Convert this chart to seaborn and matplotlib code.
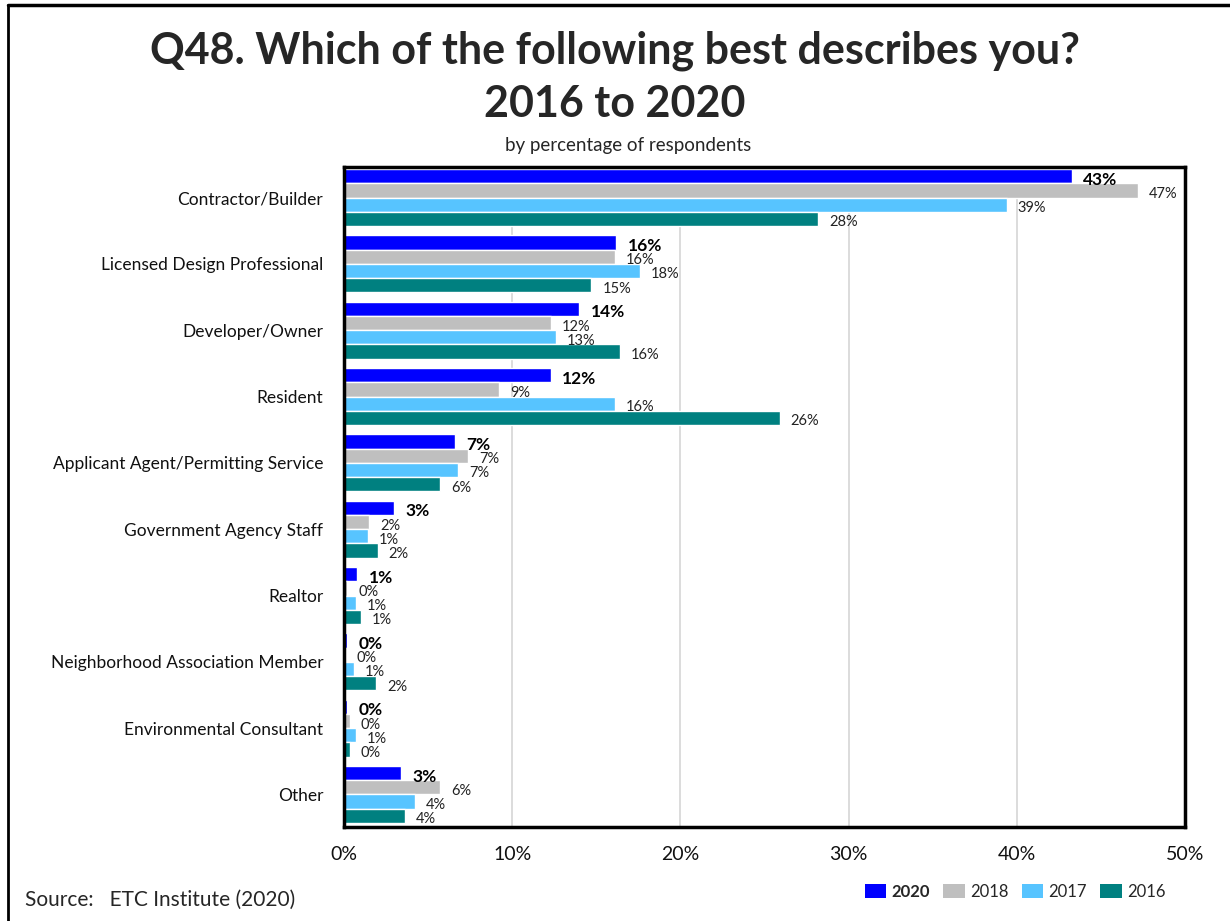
import numpy as np
import pandas as pd
import seaborn as sns
import matplotlib.pyplot as plt
from matplotlib.patches import Patch
from matplotlib.lines import Line2D
from matplotlib.ticker import FuncFormatter

# Survey responses, percent of respondents per year
categories = [
    "Contractor/Builder",
    "Licensed Design Professional",
    "Developer/Owner",
    "Resident",
    "Applicant Agent/Permitting Service",
    "Government Agency Staff",
    "Realtor",
    "Neighborhood Association Member",
    "Environmental Consultant",
    "Other",
]
years = ["2020", "2018", "2017", "2016"]
pct_2020 = [43.3, 16.2, 14.0, 12.3, 6.6, 3.0, 0.8, 0.2, 0.2, 3.4]
pct_2018 = [47.2, 16.1, 12.3, 9.2, 7.4, 1.5, 0.2, 0.1, 0.35, 5.7]
pct_2017 = [39.4, 17.6, 12.6, 16.1, 6.8, 1.4, 0.7, 0.6, 0.7, 4.2]
pct_2016 = [28.2, 14.7, 16.4, 25.9, 5.7, 2.0, 1.0, 1.9, 0.35, 3.6]
year_colors = ["#0000FF", "#BFBFBF", "#57C4FF", "#008080"]

series = dict(zip(years, [pct_2020, pct_2018, pct_2017, pct_2016]))
df = pd.DataFrame(
    [(c, y, v) for y in years for c, v in zip(categories, series[y])],
    columns=["category", "year", "pct"],
)

sns.set_theme(style="white")
plt.rcParams["font.family"] = ["Lato", "DejaVu Sans"]

W, H = 1230, 921
fig = plt.figure(figsize=(W / 100, H / 100), dpi=100)
fig.patch.set_facecolor("white")

ax = fig.add_axes([344 / W, 1 - 827 / H, (1185 - 344) / W, (827 - 167) / H])
sns.barplot(
    data=df, y="category", x="pct", hue="year",
    hue_order=years, order=categories,
    palette=dict(zip(years, year_colors)),
    orient="h", width=0.86, saturation=1, errorbar=None,
    legend=False, ax=ax,
)
ax.set_ylim(9.49, -0.46)

# value labels: 2020 in bold, earlier years regular, nudged slightly below bar centre
for i, cont in enumerate(ax.containers):
    vals = series[years[i]]
    labels = [f"{round(v + 1e-9):.0f}%" for v in vals]
    if i == 0:
        texts = ax.bar_label(cont, labels=labels, padding=8, fontsize=12.5,
                             fontweight="bold", color="black")
    else:
        texts = ax.bar_label(cont, labels=labels, padding=8, fontsize=10.5,
                             color="#222222")
    for t in texts:
        t.xyann = (t.xyann[0], -2.5)

ax.set_xlim(0, 50)
ax.set_xticks(np.arange(0, 51, 10))
ax.xaxis.set_major_formatter(FuncFormatter(lambda v, _: f"{v:.0f}%"))
ax.xaxis.grid(True, color="#D6D6D6", linewidth=1.2)
ax.set_axisbelow(True)
ax.set_xlabel("")
ax.set_ylabel("")
ax.tick_params(axis="x", labelsize=14, pad=14, length=0, colors="#111111")
ax.tick_params(axis="y", labelsize=12.5, pad=15, length=0, colors="#111111")
for s in ax.spines.values():
    s.set_visible(True)
    s.set_color("black")
    s.set_linewidth(2.5)

# titles
fig.text(0.5, 1 - 51 / H, "Q48. Which of the following best describes you?",
         ha="center", va="center", fontsize=31, fontweight="bold")
fig.text(0.5, 1 - 104 / H, "2016 to 2020",
         ha="center", va="center", fontsize=31, fontweight="bold")
fig.text(628 / W, 1 - 146 / H, "by percentage of respondents",
         ha="center", va="center", fontsize=13.5)

fig.text(25 / W, 1 - 900 / H, "Source:   ETC Institute (2020)",
         ha="left", va="center", fontsize=15)

# legend
handles = [Patch(facecolor=c, edgecolor="none") for c in year_colors]
leg = fig.legend(handles, years, ncol=4, loc="center right",
                 bbox_to_anchor=(1172 / W, 1 - 892 / H), frameon=False,
                 fontsize=12, handlelength=1.3, handleheight=0.9,
                 handletextpad=0.3, columnspacing=0.8, borderaxespad=0)
leg.get_texts()[0].set_fontweight("bold")

# page frame (top and left edges)
fig.add_artist(Line2D([8 / W, 1.0], [1 - 5 / H, 1 - 5 / H],
                      transform=fig.transFigure, color="black", linewidth=2.5))
fig.add_artist(Line2D([8 / W, 8 / W], [0, 1 - 5 / H],
                      transform=fig.transFigure, color="black", linewidth=2))

fig.savefig("out.png", dpi=100, facecolor="white")
